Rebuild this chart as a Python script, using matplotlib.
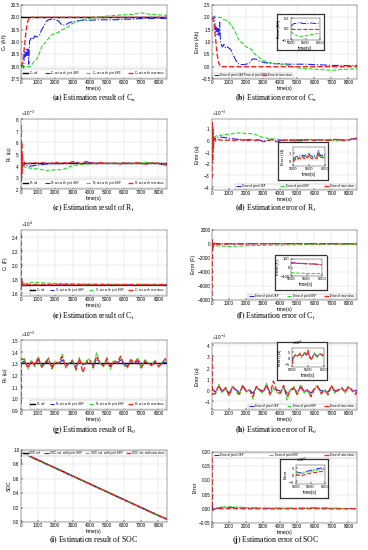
import numpy as np
import matplotlib
matplotlib.use("Agg")
import matplotlib.pyplot as plt

plt.rcParams["font.family"] = ["Liberation Sans", "DejaVu Sans"]
plt.rcParams["mathtext.fontset"] = "stix"

# ---------------- data ----------------
xt = [0, 1000, 2000, 3000, 4000, 5000, 6000, 7000, 8000]

# (a)/(b) capacity Cn [Ah]
t_ab = [0, 100, 150, 200, 250, 300, 350, 400, 450, 500, 550, 600, 700, 800, 900, 1000,
        1100, 1200, 1300, 1400, 1500, 1600, 1800, 2000, 2200, 2300, 2400, 2600, 2800,
        3000, 3200, 3500, 4000, 4500, 5000, 5500, 6000, 6500, 7000, 7500, 8000, 8500]
cn_ref = [20.0, 20.0]
cn_ukf = [18.0, 18.05, 17.95, 18.6, 18.4, 18.7, 18.45, 18.75, 18.1, 19.05,
          19.1, 19.2, 19.1, 19.25, 19.2, 19.25, 19.3, 19.5, 19.6, 19.75, 19.85, 19.9,
          19.92, 19.9, 19.85, 19.75, 19.68, 19.7, 19.78, 19.82, 19.85, 19.88,
          19.88, 19.9, 19.9, 19.9, 19.92, 19.93, 19.95, 19.95, 19.96, 19.95]
cn_ekf = [18.0, 18.0, 18.0, 18.0, 18.0, 18.0, 18.0, 18.0, 18.0, 18.0,
          18.02, 18.05, 18.15, 18.25, 18.3, 18.4, 18.6, 18.8, 18.9, 18.95, 19.05, 19.15,
          19.3, 19.35, 19.4, 19.45, 19.5, 19.55, 19.65, 19.75, 19.8, 19.88,
          19.95, 20.0, 20.05, 20.08, 20.1, 20.12, 20.18, 20.12, 20.1, 20.08]
t_new_ab = [0, 100, 200, 300, 400, 500, 8500]
cn_new = [18.0, 18.2, 18.8, 19.5, 19.85, 20.0, 20.0]

ecn_ukf = [2.0, 1.95, 2.05, 1.4, 1.6, 1.3, 1.55, 1.25, 1.8, 0.95,
           0.9, 0.8, 0.9, 0.75, 0.8, 0.75, 0.7, 0.5, 0.4, 0.25, 0.15, 0.1,
           0.08, 0.1, 0.15, 0.25, 0.32, 0.3, 0.22, 0.18, 0.15, 0.12,
           0.12, 0.1, 0.1, 0.1, 0.08, 0.07, 0.05, 0.05, 0.04, 0.05]
ecn_ekf = [2.0, 2.0, 2.0, 2.0, 2.0, 2.0, 2.0, 2.0, 2.0, 2.0,
           1.98, 1.95, 1.9, 1.9, 1.85, 1.8, 1.7, 1.6, 1.5, 1.35, 1.2, 1.05,
           0.95, 0.8, 0.75, 0.7, 0.6, 0.45, 0.35, 0.25, 0.2, 0.15,
           0.1, 0.05, -0.05, -0.08, -0.1, -0.12, -0.15, -0.12, -0.1, -0.08]
ecn_new = [2.0, 1.8, 1.2, 0.5, 0.15, 0.0, 0.0]

t_in = [5000, 5100, 5200, 5300, 5400, 5500, 5600, 5700, 5800, 5900, 6000]
ecn_in_ukf = [0.05, 0.1, 0.1, 0.12, 0.1, 0.1, 0.1, 0.11, 0.1, 0.1, 0.11]
ecn_in_ekf = [-0.05, -0.1, -0.12, -0.14, -0.13, -0.12, -0.12, -0.1, -0.1, -0.08, -0.1]
ecn_in_new = [0.0, 0.0, 0.0, 0.0, 0.0, 0.0, 0.0, 0.0, 0.0, 0.0, 0.0]

# (c)-(f) R1 [mOhm] and C1 [x1e4 F]
t_c = [0, 20, 40, 60, 80, 100, 150, 200, 250, 500, 750, 1000, 1250, 1500, 1750, 2000,
       2250, 2500, 2750, 3000, 3250, 3500, 3750, 4000, 4250, 4500, 4750, 5000, 5250,
       5500, 5750, 6000, 6250, 6500, 6750, 7000, 7250, 7500, 7750, 8000, 8250, 8500]
r1_ref = [4.2, 4.2]
r1_ukf = [4.2, 3.9, 4.3, 4.0, 4.2, 4.1, 4.0, 4.1, 4.0,
          3.95, 4.0, 4.05, 4.1, 4.15, 4.15, 4.2, 4.15, 4.2, 4.2, 4.3,
          4.25, 4.15, 4.3, 4.25, 4.2, 4.2, 4.2, 4.2,
          4.2, 4.2, 4.15, 4.2, 4.2, 4.2, 4.2, 4.2,
          4.15, 4.2, 4.2, 4.2, 4.1, 4.05]
r1_ekf = [4.2, 4.0, 4.3, 4.1, 4.2, 4.0, 3.95, 3.9, 3.85,
          3.8, 3.75, 3.7, 3.65, 3.6, 3.6, 3.65, 3.65, 3.7, 3.85, 4.0,
          4.05, 4.1, 4.15, 4.15, 4.2, 4.2, 4.2, 4.2,
          4.2, 4.2, 4.2, 4.25, 4.2, 4.2, 4.2, 4.25,
          4.3, 4.25, 4.2, 4.2, 4.15, 4.15]
r1_new = [7.5, 2.7, 6.0, 3.3, 5.0, 4.4, 4.1, 4.3, 4.15,
          4.2, 4.25, 4.2, 4.25, 4.2, 4.2, 4.3, 4.2, 4.25, 4.2, 4.35,
          4.3, 4.15, 4.35, 4.3, 4.2, 4.25, 4.25, 4.2,
          4.2, 4.2, 4.15, 4.25, 4.2, 4.2, 4.25, 4.2,
          4.15, 4.2, 4.25, 4.2, 4.1, 4.05]

er1_ukf = [0.0, 0.3, -0.1, 0.2, 0.0, 0.1, 0.2, 0.1, 0.2,
           0.25, 0.2, 0.15, 0.1, 0.05, 0.05, 0.0, 0.05, 0.0, 0.0, -0.1,
           -0.05, 0.05, -0.1, -0.05, 0.0, 0.0, 0.0, 0.0,
           0.0, 0.0, 0.05, 0.0, 0.0, 0.0, 0.0, 0.0,
           0.05, 0.0, 0.0, 0.0, 0.1, 0.15]
er1_ekf = [0.0, 0.2, -0.1, 0.1, 0.0, 0.2, 0.25, 0.3, 0.35,
           0.4, 0.45, 0.5, 0.55, 0.6, 0.6, 0.55, 0.55, 0.5, 0.35, 0.2,
           0.15, 0.1, 0.05, 0.05, 0.0, 0.0, 0.0, 0.0,
           0.0, 0.0, 0.0, -0.05, 0.0, 0.0, 0.0, -0.05,
           -0.1, -0.05, 0.0, 0.0, 0.05, 0.05]
er1_new = [-3.3, 1.5, -1.8, 0.9, -0.8, -0.2, 0.1, -0.1, 0.05,
           0.0, -0.05, 0.0, -0.05, 0.0, 0.0, -0.1, 0.0, -0.05, 0.0, -0.15,
           -0.1, 0.05, -0.15, -0.1, 0.0, -0.05, -0.05, 0.0,
           0.0, 0.0, 0.05, -0.05, 0.0, 0.0, -0.05, 0.0,
           0.05, 0.0, -0.05, 0.0, 0.1, 0.15]

t_in2 = [5000, 5050, 5100, 5150, 5200, 5250, 5300, 5350, 5400, 5450, 5500,
         5550, 5600, 5650, 5700, 5750, 5800, 5850, 5900, 5950, 6000]
er1_in_ukf = [0.2, 0.3, 0.5, 0.4, 0.6, 0.5, 0.7, 0.5, 0.8, 0.6, 0.9,
              0.6, 0.5, 0.7, 0.6, 0.5, 1.4, 0.6, 0.7, 0.6, 0.8]
er1_in_ekf = [0.0, 0.2, 0.3, 0.2, 0.4, 0.3, 0.5, 0.3, 0.6, 0.4, 0.7,
              0.4, 0.3, 0.5, 0.4, 0.3, 1.0, 0.4, 0.5, 0.4, 0.6]
er1_in_new = [-0.2, 0.0, 0.2, 0.1, 0.3, 0.2, 0.4, 0.2, 0.5, 0.3, 0.6,
              0.3, 0.2, 0.4, 0.3, 0.2, 0.8, 0.3, 0.4, 0.3, 0.5]

c1_ref = [1.712, 1.712]
c1_ukf = [1.72, 1.75, 1.69, 1.73, 1.70, 1.72, 1.70, 1.705, 1.70,
          1.705, 1.705, 1.706, 1.706, 1.706, 1.706, 1.706, 1.707, 1.707, 1.707, 1.707,
          1.707, 1.707, 1.707, 1.707, 1.708, 1.708, 1.708, 1.708,
          1.708, 1.708, 1.708, 1.708, 1.709, 1.709, 1.709, 1.709,
          1.709, 1.709, 1.709, 1.709, 1.709, 1.709]
c1_ekf = [1.72, 1.75, 1.70, 1.73, 1.71, 1.73, 1.72, 1.725, 1.73,
          1.74, 1.745, 1.745, 1.74, 1.735, 1.735, 1.73, 1.73, 1.73, 1.728, 1.726,
          1.725, 1.724, 1.723, 1.722, 1.722, 1.721, 1.721, 1.72,
          1.72, 1.72, 1.72, 1.72, 1.72, 1.72, 1.72, 1.72,
          1.72, 1.72, 1.72, 1.72, 1.72, 1.72]
c1_new = [2.45, 1.65, 1.80, 1.70, 1.74, 1.72, 1.71, 1.72, 1.715,
          1.716, 1.716, 1.716, 1.716, 1.716, 1.715, 1.715, 1.715, 1.715, 1.715, 1.715,
          1.714, 1.714, 1.714, 1.714, 1.714, 1.714, 1.714, 1.714,
          1.713, 1.713, 1.713, 1.713, 1.713, 1.713, 1.713, 1.713,
          1.713, 1.713, 1.712, 1.712, 1.712, 1.712]

ec1_ukf = [-100, -400, 200, -200, 100, 0, 100, 50, 60,
           50, 40, 30, 30, 30, 40, 40, 40, 45, 50, 50,
           50, 50, 52, 52, 54, 54, 55, 55,
           50, 48, 45, 42, 40, 38, 36, 35,
           34, 32, 31, 30, 30, 29]
ec1_ekf = [-100, -400, 100, -300, -200, -200, -150, -200, -250,
           -300, -320, -350, -330, -300, -280, -250, -230, -210, -200, -180,
           -170, -160, -150, -140, -130, -120, -110, -100,
           -90, -80, -75, -70, -70, -70, -70, -70,
           -68, -67, -66, -65, -64, -63]
ec1_new = [-7400, 600, -900, 100, -300, -100, 0, -100, -50,
           -30, -20, -10, 0, 0, 10, 10, 20, 20, 20, 30,
           30, 40, 40, 40, 45, 45, 50, 52,
           48, 45, 42, 40, 38, 35, 35, 33,
           32, 30, 30, 28, 28, 27]

ec1_in_ukf = [55, 55, 50, 50, 48, 45, 45, 42, 40, 38, 35]
ec1_in_ekf = [-60, -62, -65, -65, -68, -70, -70, -70, -72, -70, -68]
ec1_in_new = [52, 52, 48, 48, 45, 43, 42, 40, 38, 35, 33]

# (g)/(h) R0 [mOhm], error [x1e-4 Ohm]
t_g = [0, 20] + list(range(200, 8401, 200)) + [8500]
r0_ref = [1.30, 1.30]
r0_ukf = [1.31, 1.30,
          1.32, 1.27, 1.31, 1.29, 1.33, 1.28, 1.30, 1.32, 1.27, 1.31,
          1.30, 1.33, 1.28, 1.30, 1.31, 1.27, 1.32, 1.29, 1.30, 1.31,
          1.28, 1.33, 1.30, 1.29, 1.32, 1.28, 1.31, 1.30, 1.33, 1.29,
          1.28, 1.31, 1.30, 1.32, 1.27, 1.31, 1.30, 1.29, 1.31, 1.28,
          1.30, 1.31, 1.30]
r0_ekf = [1.31, 1.30,
          1.34, 1.25, 1.33, 1.27, 1.36, 1.26, 1.31, 1.35, 1.25, 1.32,
          1.30, 1.38, 1.26, 1.31, 1.33, 1.24, 1.35, 1.28, 1.32, 1.34,
          1.27, 1.39, 1.30, 1.27, 1.35, 1.25, 1.33, 1.31, 1.36, 1.28,
          1.26, 1.34, 1.30, 1.35, 1.26, 1.33, 1.31, 1.28, 1.33, 1.27,
          1.31, 1.33, 1.31]
r0_new = [0.95, 1.34,
          1.33, 1.26, 1.32, 1.28, 1.35, 1.27, 1.30, 1.34, 1.26, 1.31,
          1.30, 1.36, 1.27, 1.30, 1.32, 1.25, 1.34, 1.22, 1.31, 1.33,
          1.26, 1.36, 1.30, 1.28, 1.34, 1.26, 1.32, 1.30, 1.36, 1.29,
          1.27, 1.33, 1.30, 1.34, 1.26, 1.32, 1.30, 1.28, 1.32, 1.27,
          1.30, 1.34, 1.32]

er0_ukf = [0.0, 0.1,
           -0.2, 0.3, -0.1, 0.1, -0.3, 0.2, 0.0, -0.2, 0.3, -0.1,
           0.0, -0.3, 0.2, 0.0, -0.1, 0.3, -0.2, 0.1, 0.0, -0.1,
           0.2, -0.3, 0.0, 0.1, -0.2, 0.2, -0.1, 0.0, -0.3, 0.1,
           0.2, -0.1, 0.0, -0.2, 0.3, -0.1, 0.0, 0.1, -0.1, 0.2,
           0.0, -0.1, 0.0]
er0_ekf = [0.0, 0.1,
           -0.4, 0.5, -0.3, 0.3, -0.6, 0.4, -0.1, -0.5, 0.5, -0.2,
           0.0, -0.8, 0.4, -0.1, -0.3, 0.6, -0.5, 0.2, -0.2, -0.4,
           0.3, -0.9, 0.0, 0.3, -0.5, 0.5, -0.3, -0.1, -0.6, 0.2,
           0.4, -0.4, 0.0, -0.5, 0.4, -0.3, -0.1, 0.2, -0.3, 0.3,
           -0.1, -0.3, -0.1]
er0_new = [3.0, -0.4,
           -0.3, 0.4, -0.2, 0.2, -0.5, 0.3, 0.0, -0.4, 0.4, -0.1,
           0.0, -0.6, 0.3, 0.0, -0.2, 0.5, -0.4, 0.8, -0.1, -0.3,
           0.4, -0.6, 0.0, 0.2, -0.4, 0.4, -0.2, 0.0, -0.6, 0.1,
           0.3, -0.3, 0.0, -0.4, 0.4, -0.2, 0.0, 0.2, -0.2, 0.3,
           0.0, -0.4, -0.2]

er0_in_ukf = [-4, 1, 2, 1, 2, 3, 1, 2, 4, 2, 5, 1, -1, 1, 3, 2, 1, 2, 3, 2, 2]
er0_in_ekf = [-5, 0, 3, 1, 1, 4, 0, 2, 5, 1, 6, 0, -2, 0, 4, 1, 0, 3, 3, 1, 2]
er0_in_new = [-5, 0, 2, 2, 2, 3, 1, 2, 4, 2, 6, 1, -2, 1, 3, 2, 1, 2, 3, 2, 2]

# (i)/(j) SOC
t_i = [0, 20, 500, 1000, 1500, 2000, 2500, 3000, 3500, 4000, 4500, 5000,
       5500, 6000, 6500, 7000, 7500, 8000, 8500]
soc_ref = [0.97, 0.97, 0.915, 0.86, 0.805, 0.75, 0.695, 0.64, 0.585, 0.53,
           0.475, 0.42, 0.365, 0.31, 0.255, 0.20, 0.145, 0.09, 0.04]
soc_ukf = [0.96, 0.965, 0.912, 0.856, 0.80, 0.746, 0.692, 0.637, 0.582, 0.528,
           0.473, 0.418, 0.363, 0.307, 0.253, 0.198, 0.144, 0.089, 0.039]
soc_ekf = [0.96, 0.965, 0.91, 0.853, 0.799, 0.745, 0.692, 0.637, 0.582, 0.528,
           0.473, 0.418, 0.363, 0.308, 0.253, 0.198, 0.144, 0.089, 0.039]
soc_new = [0.80, 0.97, 0.914, 0.859, 0.804, 0.749, 0.694, 0.639, 0.584, 0.529,
           0.474, 0.419, 0.364, 0.309, 0.254, 0.199, 0.144, 0.089, 0.039]

t_j = [0, 20, 50, 100, 200, 500, 1000, 1500, 2000, 2500, 3000, 4000, 5000,
       6000, 7000, 8000, 8500]
esoc_ukf = [0.02, 0.01, -0.008, -0.004, 0.0, 0.004, 0.005, 0.004, 0.003,
            0.003, 0.002, 0.002, 0.002, 0.003, 0.002, 0.001, 0.001]
esoc_ekf = [0.02, 0.008, -0.006, -0.003, 0.002, 0.006, 0.007, 0.006, 0.004,
            0.003, 0.002, 0.002, 0.001, 0.002, 0.001, 0.001, 0.001]
esoc_new = [0.18, 0.0, -0.005, 0.0, 0.0, 0.001, 0.001, 0.001, 0.0,
            0.0, 0.0, 0.0, 0.0, 0.001, 0.0, 0.0, 0.0]
esoc_in_ukf = [2.0, 1.5, 1.0, 2.0, 2.5, 3.0, 3.5, 4.0, 4.5, 5.0, 4.5]
esoc_in_ekf = [1.5, 1.0, 0.5, 1.5, 2.0, 2.2, 2.8, 3.0, 3.5, 3.8, 3.5]
esoc_in_new = [0.0, -0.5, -1.0, 0.0, 0.5, 1.0, 1.5, 1.5, 2.0, 2.2, 2.0]

# ---------------- layout helpers ----------------
W, H = 368, 550
fig = plt.figure(figsize=(W / 100, H / 100), dpi=100)


def px(l, t, r, b):
    return [l / W, 1 - b / H, (r - l) / W, (b - t) / H]


def style(ax, fs=3.3, xlab="time(s)"):
    ax.grid(True, color="#dcdcdc", lw=0.35)
    ax.set_axisbelow(True)
    ax.tick_params(labelsize=fs, length=1.2, width=0.35, pad=1, direction="in")
    for s in ax.spines.values():
        s.set_linewidth(0.35)
        s.set_color("#444444")
    ax.set_xlabel(xlab, fontsize=fs + 0.4, labelpad=0.5)
    ax.yaxis.get_offset_text().set_fontsize(fs)


def sci(ax, order):
    ax.ticklabel_format(axis="y", style="sci", scilimits=(order, order), useMathText=True)


def lines(ax, tref, ref, tu, u, te, e, tn, n, scale=1.0, lw=0.8):
    if ref is not None:
        ax.plot(tref, np.array(ref) * scale, color="black", lw=1.0)
    ax.plot(tu, np.array(u) * scale, color="#1f1fff", ls="-.", lw=lw)
    ax.plot(te, np.array(e) * scale, color="#22dd22", ls="--", lw=lw)
    ax.plot(tn, np.array(n) * scale, color="#ff2020", ls="--", lw=lw + 0.2)


def legend(ax, labels, anchor, loc):
    hs = ax.get_lines()
    leg = ax.legend(hs, labels, loc=loc, bbox_to_anchor=anchor, mode="expand",
                    ncol=len(labels), fontsize=2.2, frameon=True, fancybox=False,
                    edgecolor="#888888", handlelength=1.6, handletextpad=0.3,
                    columnspacing=0.5, borderpad=0.2, borderaxespad=0.0)
    leg.get_frame().set_linewidth(0.3)


def inset(frame, box, xlim, ylim, yticks, ylabel, tu, u, te, e, tn, n, scale, order=None):
    fr = fig.add_axes(px(*frame))
    fr.set_xticks([])
    fr.set_yticks([])
    for s in fr.spines.values():
        s.set_linestyle((0, (1, 1)))
        s.set_linewidth(0.9)
        s.set_color("#333333")
    ia = fig.add_axes(px(*box))
    ia.plot(tu, np.array(u) * scale, color="#1f1fff", ls="-.", lw=0.7)
    ia.plot(te, np.array(e) * scale, color="#22dd22", ls="--", lw=0.7)
    ia.plot(tn, np.array(n) * scale, color="#ff2020", ls="--", lw=0.8)
    ia.set_xlim(*xlim)
    ia.set_ylim(*ylim)
    ia.set_xticks([5000, 5500, 6000])
    ia.set_yticks(yticks)
    if order is not None:
        sci(ia, order)
    style(ia, fs=2.9)
    ia.yaxis.get_offset_text().set_fontsize(2.6)
    ia.set_ylabel(ylabel, fontsize=3.1, labelpad=0.5)
    return ia


def caption(x, y, letter, text):
    fig.text(x / W, 1 - y / H, r"$\mathbf{(" + letter + r")}$ " + text, ha="center",
             va="center", fontsize=5.6, family="Liberation Serif")


LX = (21, 167)
RX = (212, 357)
lab_err = ["Error of joint UKF", "Error of joint EKF", "Error of new struc."]
FULL_LO = (0.01, 0.015, 0.98, 0.1)

# ---------------- (a) ----------------
ax = fig.add_axes(px(LX[0], 5, LX[1], 79))
lines(ax, [0, 8500], cn_ref, t_ab, cn_ukf, t_ab, cn_ekf, t_new_ab, cn_new)
ax.set_xlim(0, 8500); ax.set_xticks(xt)
ax.set_ylim(17.5, 20.5); ax.set_yticks([17.5, 18, 18.5, 19, 19.5, 20, 20.5])
style(ax); ax.set_ylabel(r"C$_n$ (Ah)", fontsize=3.6, labelpad=1)
legend(ax, [r"C$_n$ ref.", r"C$_n$ est. with joint UKF", r"C$_n$ est. with joint EKF",
            r"C$_n$ est. with new struc."], FULL_LO, "lower left")
caption(94, 98, "a", r"Estimation result of C$_\mathrm{n}$")

# ---------------- (b) ----------------
ax = fig.add_axes(px(RX[0], 5, RX[1], 79))
lines(ax, None, None, t_ab, ecn_ukf, t_ab, ecn_ekf, t_new_ab, ecn_new)
ax.set_xlim(0, 8500); ax.set_xticks(xt)
ax.set_ylim(-0.5, 2.5); ax.set_yticks([-0.5, 0, 0.5, 1, 1.5, 2, 2.5])
style(ax); ax.set_ylabel("Error (Ah)", fontsize=3.6, labelpad=1)
legend(ax, lab_err, (0.01, 0.015, 0.55, 0.1), "lower left")
inset((277, 14, 324, 50), (291, 18, 320, 40), (5000, 6000), (-0.2, 0.2), [-0.2, 0, 0.2],
      "Error (Ah)", t_in, ecn_in_ukf, t_in, ecn_in_ekf, t_in, ecn_in_new, 1.0)
caption(276, 98, "b", r"Estimation error of C$_\mathrm{n}$")

# ---------------- (c) ----------------
ax = fig.add_axes(px(LX[0], 119, LX[1], 189))
lines(ax, [0, 8500], r1_ref, t_c, r1_ukf, t_c, r1_ekf, t_c, r1_new, scale=1e-3)
ax.set_xlim(0, 8500); ax.set_xticks(xt)
ax.set_ylim(2e-3, 8e-3); ax.set_yticks([2e-3, 3e-3, 4e-3, 5e-3, 6e-3, 7e-3, 8e-3])
sci(ax, -3)
style(ax); ax.set_ylabel(r"R$_1$ ($\Omega$)", fontsize=3.6, labelpad=1)
legend(ax, [r"R$_1$ ref.", r"R$_1$ est. with joint UKF", r"R$_1$ est. with joint EKF",
            r"R$_1$ est. with new struc."], FULL_LO, "lower left")
caption(94, 208, "c", r"Estimation result of R$_\mathrm{1}$")

# ---------------- (d) ----------------
ax = fig.add_axes(px(RX[0], 119, RX[1], 190))
lines(ax, None, None, t_c, er1_ukf, t_c, er1_ekf, t_c, er1_new, scale=1e-3)
ax.set_xlim(0, 8500); ax.set_xticks(xt)
ax.set_ylim(-4.3e-3, 1.8e-3); ax.set_yticks([-4e-3, -3e-3, -2e-3, -1e-3, 0, 1e-3])
sci(ax, -3)
style(ax); ax.set_ylabel(r"Error ($\Omega$)", fontsize=3.6, labelpad=1)
legend(ax, lab_err, (0.16, 0.015, 0.83, 0.1), "lower left")
inset((278, 142, 328, 180), (293, 147, 325, 166), (5000, 6000), (-0.8e-4, 1.8e-4),
      [0, 1e-4], r"Error ($\Omega$)", t_in2, er1_in_ukf, t_in2, er1_in_ekf, t_in2,
      er1_in_new, 1e-4, order=-4)
caption(276, 208, "d", r"Estimation error of R$_\mathrm{1}$")

# ---------------- (e) ----------------
ax = fig.add_axes(px(LX[0], 230, LX[1], 296))
lines(ax, [0, 8500], c1_ref, t_c, c1_ukf, t_c, c1_ekf, t_c, c1_new, scale=1e4)
ax.set_xlim(0, 8500); ax.set_xticks(xt)
ax.set_ylim(1.55e4, 2.5e4); ax.set_yticks([1.6e4, 1.8e4, 2.0e4, 2.2e4, 2.4e4])
sci(ax, 4)
style(ax); ax.set_ylabel(r"C$_1$ (F)", fontsize=3.6, labelpad=1)
legend(ax, [r"C$_1$ ref.", r"C$_1$ est. with joint UKF", r"C$_1$ est. with joint EKF",
            r"C$_1$ est. with new struc."], (0.06, 0.015, 0.93, 0.1), "lower left")
caption(94, 316, "e", r"Estimation result of C$_\mathrm{1}$")

# ---------------- (f) ----------------
ax = fig.add_axes(px(RX[0], 230, RX[1], 300))
lines(ax, None, None, t_c, ec1_ukf, t_c, ec1_ekf, t_c, ec1_new)
ax.set_xlim(0, 8500); ax.set_xticks(xt)
ax.set_ylim(-8000, 2000); ax.set_yticks([-8000, -6000, -4000, -2000, 0, 2000])
style(ax); ax.set_ylabel("Error (F)", fontsize=3.6, labelpad=1)
legend(ax, lab_err, (0.25, 0.015, 0.74, 0.1), "lower left")
inset((275, 255, 327, 290), (291, 259, 322, 276), (5000, 6000), (-100, 100),
      [-100, 0, 100], "Error (F)", t_in, ec1_in_ukf, t_in, ec1_in_ekf, t_in, ec1_in_new, 1.0)
caption(276, 316, "f", r"Estimation error of C$_\mathrm{1}$")

# ---------------- (g) ----------------
ax = fig.add_axes(px(LX[0], 340, LX[1], 410))
lines(ax, [0, 8500], r0_ref, t_g, r0_ukf, t_g, r0_ekf, t_g, r0_new, scale=1e-3)
ax.set_xlim(0, 8500); ax.set_xticks(xt)
ax.set_ylim(0.9e-3, 1.5e-3)
ax.set_yticks([0.9e-3, 1.0e-3, 1.1e-3, 1.2e-3, 1.3e-3, 1.4e-3, 1.5e-3])
sci(ax, -3)
style(ax); ax.set_ylabel(r"R$_0$ ($\Omega$)", fontsize=3.6, labelpad=1)
legend(ax, [r"R$_0$ ref.", r"R$_0$ est. with joint UKF", r"R$_0$ est. with joint EKF",
            r"R$_0$ est. with new struc."], (0.06, 0.015, 0.93, 0.1), "lower left")
caption(94, 430, "g", r"Estimation result of R$_\mathrm{0}$")

# ---------------- (h) ----------------
ax = fig.add_axes(px(RX[0], 343, RX[1], 410))
lines(ax, None, None, t_g, er0_ukf, t_g, er0_ekf, t_g, er0_new, scale=1e-4)
ax.set_xlim(0, 8500); ax.set_xticks(xt)
ax.set_ylim(-1.8e-4, 4.2e-4); ax.set_yticks([-1e-4, 0, 1e-4, 2e-4, 3e-4, 4e-4])
sci(ax, -4)
style(ax); ax.set_ylabel(r"Error ($\Omega$)", fontsize=3.6, labelpad=1)
legend(ax, lab_err, (0.25, 0.015, 0.74, 0.1), "lower left")
inset((277, 342, 327, 380), (292, 348, 324, 367), (5000, 6000), (-8e-5, 8e-5),
      [-5e-5, 0, 5e-5], r"Error ($\Omega$)", t_in2, er0_in_ukf, t_in2, er0_in_ekf,
      t_in2, er0_in_new, 1e-5, order=-5)
caption(276, 430, "h", r"Estimation error of R$_\mathrm{0}$")

# ---------------- (i) ----------------
ax = fig.add_axes(px(LX[0], 450, LX[1], 522))
lines(ax, t_i, soc_ref, t_i, soc_ukf, t_i, soc_ekf, t_i, soc_new)
ax.set_xlim(0, 8500); ax.set_xticks(xt)
ax.set_ylim(0, 1); ax.set_yticks([0, 0.2, 0.4, 0.6, 0.8, 1])
style(ax); ax.set_ylabel("SOC", fontsize=3.6, labelpad=1)
legend(ax, ["SOC ref.", "SOC est. with joint UKF", "SOC est. with joint EKF",
            "SOC est. with new struc."], (0.01, 0.89, 0.98, 0.1), "upper left")
caption(94, 540, "i", "Estimation result of SOC")

# ---------------- (j) ----------------
ax = fig.add_axes(px(RX[0], 452, RX[1], 523))
lines(ax, None, None, t_j, esoc_ukf, t_j, esoc_ekf, t_j, esoc_new)
ax.set_xlim(0, 8500); ax.set_xticks(xt)
ax.set_ylim(-0.05, 0.2); ax.set_yticks([-0.05, 0, 0.05, 0.1, 0.15, 0.2])
style(ax); ax.set_ylabel("Error", fontsize=3.6, labelpad=1)
legend(ax, lab_err, (0.01, 0.89, 0.98, 0.1), "upper left")
inset((280, 459, 328, 498), (296, 465, 325, 484), (5000, 6000), (-7e-3, 7e-3),
      [-5e-3, 0, 5e-3], "Error", t_in, esoc_in_ukf, t_in, esoc_in_ekf, t_in,
      esoc_in_new, 1e-3, order=-3)
caption(276, 540, "j", "Estimation error of SOC")

fig.savefig("out.png", dpi=100)
